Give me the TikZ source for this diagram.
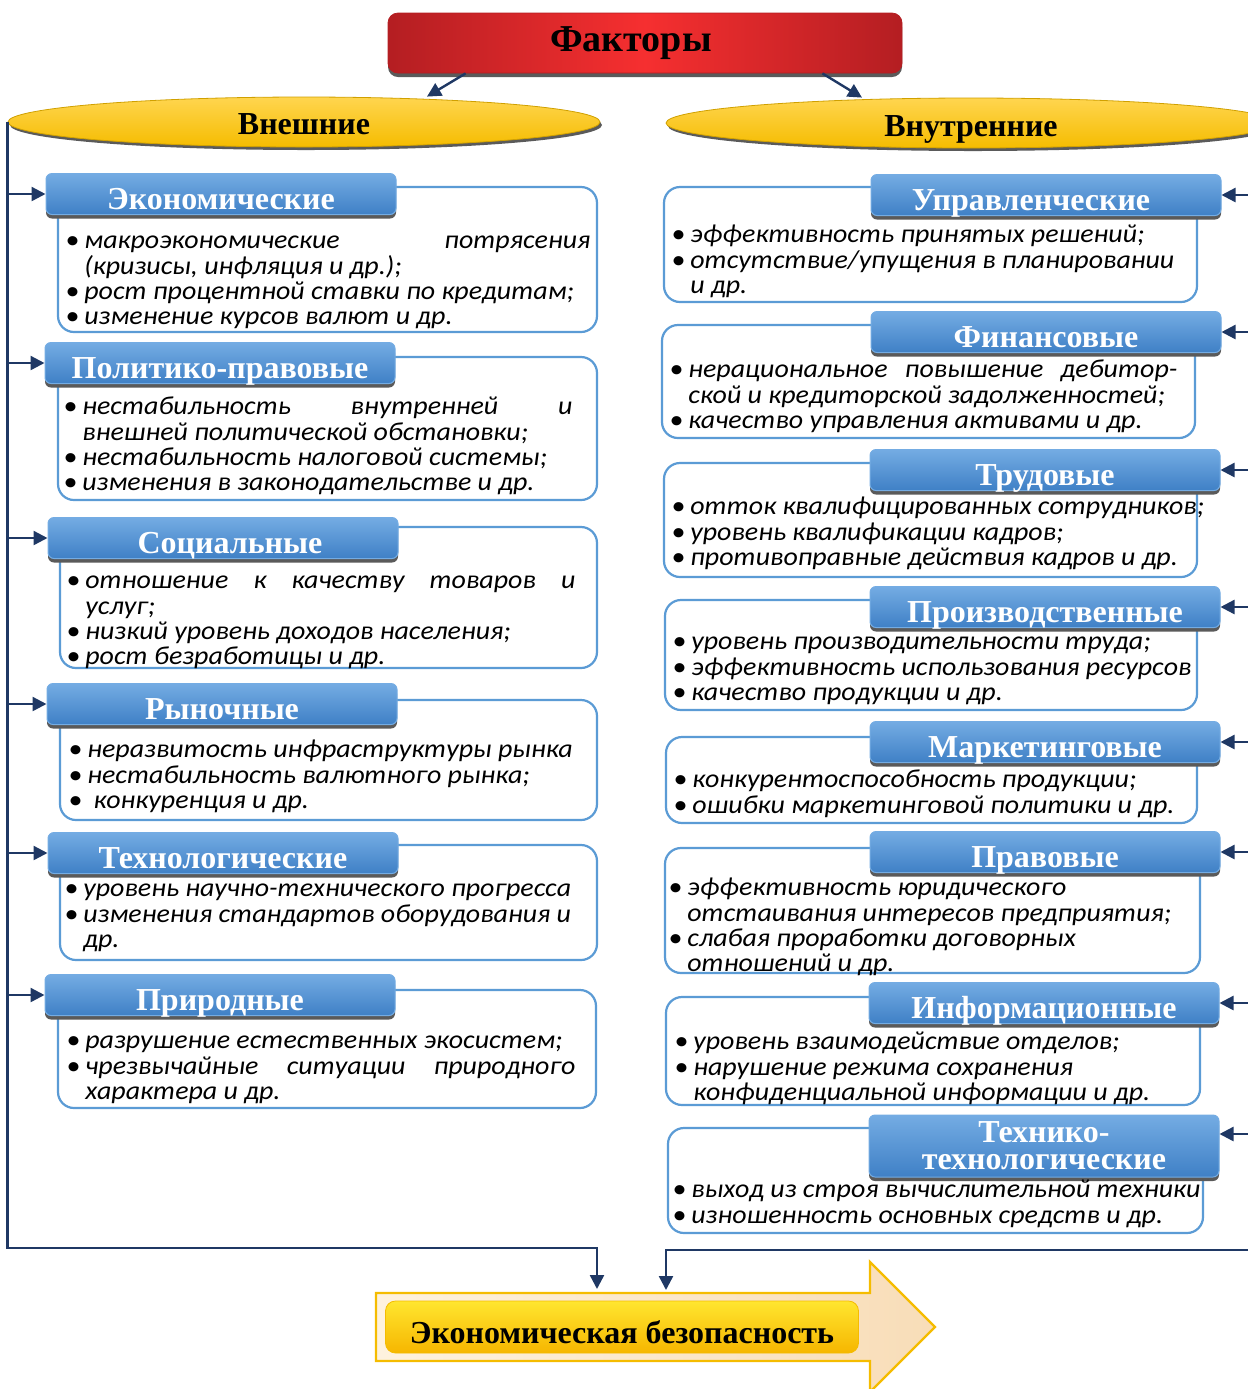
\documentclass[tikz,border=0pt]{standalone}
\usepackage{fontspec}
\newfontfamily\bodyfont[FakeStretch=1.075]{Carlito}
\newfontfamily\headfont{Liberation Serif}
\usetikzlibrary{arrows.meta,shapes.geometric,shadows}
\definecolor{fkred}{HTML}{F62F30}
\definecolor{fkdred}{HTML}{B41E22}
\definecolor{fkgold}{HTML}{F5BC00}
\definecolor{fklgold}{HTML}{FFD54F}
\definecolor{fknavy}{HTML}{1F3864}
\definecolor{fkblue}{HTML}{5B9BD5}
\definecolor{fkhtop}{HTML}{74ACE3}
\definecolor{fkhbot}{HTML}{3F80C6}
\definecolor{fkcream}{HTML}{FEF2DE}
\definecolor{fkpeach}{HTML}{F8DDB8}
\definecolor{fkshadow}{HTML}{5A5A5A}

\newcommand{\itemfont}{\bodyfont\itshape\fontsize{13}{12.6}\selectfont\lineskiplimit=-20pt\relax}
\newcommand{\bl}{\rule{0pt}{11.2pt}\makebox[9.5pt][l]{\textbullet}}
\newcommand{\cl}{\rule{0pt}{11.2pt}\hspace*{9.5pt}}

\begin{document}
\begin{tikzpicture}[x=0.5pt, y=-0.5pt,
    arr/.style={draw=fknavy, line width=1.2pt, -{Triangle[length=7pt, width=7pt]}},
    hdrbase/.style={rounded corners=3pt, top color=fkhtop, bottom color=fkhbot, draw=fkhtop,
      line width=0.5pt, minimum width=175pt, minimum height=20.5pt, inner sep=0pt,
      text=white, font=\headfont\bfseries\fontsize{16}{16}\selectfont,
      drop shadow={shadow xshift=0pt, shadow yshift=-2pt, fill=fkshadow, opacity=1}},
    hdr/.style={hdrbase, text height=15pt, text depth=0pt},
    frame/.style={draw=fkblue, line width=1.1pt, rounded corners=8pt, fill=white},
    txt/.style={anchor=north west, inner sep=0pt, align=left, font=\itemfont},
    grp/.style={ellipse, top color=fklgold, bottom color=fkgold, draw=fkgold!85!black,
      line width=0.4pt, minimum height=25pt, inner sep=0pt,
      font=\headfont\bfseries\fontsize{16}{16}\selectfont,
      drop shadow={shadow xshift=1pt, shadow yshift=-1.5pt, fill=fkshadow, opacity=1}},
  ]
  \useasboundingbox (0,0) rectangle (1248,1389);

  % top level
  \node[rounded corners=5pt, left color=fkdred, right color=fkdred, middle color=fkred,
    draw=fkdred, minimum width=257pt, minimum height=30pt, inner sep=0pt,
    font=\headfont\bfseries\fontsize{19}{19}\selectfont,
    drop shadow={shadow xshift=0pt, shadow yshift=-2pt, fill=fkshadow, opacity=1}]
    (fak) at (645,43) {Факторы\hspace*{14pt}};
  \node[grp, minimum width=296pt] (vnesh) at (304,122) {\raisebox{-1pt}[\height][0pt]{Внешние}};
  \node[grp, minimum width=305pt] (vnut) at (971,123) {\raisebox{-1.5pt}[\height][0pt]{Внутренние}};
  \draw[arr] ([xshift=39pt]fak.south west) -- ([xshift=61.5pt]vnesh.north);
  \draw[arr] ([xshift=-40pt]fak.south east) -- ([xshift=-54.5pt]vnut.north);

  % content frames, drawn before the headers
  \draw[frame] (58,187) rectangle (597,332);
  \draw[frame] (58,357) rectangle (597,500);
  \draw[frame] (60,527) rectangle (597,668);
  \draw[frame] (60,700) rectangle (597,820);
  \draw[frame] (60,845) rectangle (597,960);
  \draw[frame] (58,990) rectangle (596,1108);
  \draw[frame] (664,187) rectangle (1197,302);
  \draw[frame] (662,325) rectangle (1195,438);
  \draw[frame] (664,463) rectangle (1197,577);
  \draw[frame] (665,600) rectangle (1197,710);
  \draw[frame] (666,737) rectangle (1197,823);
  \draw[frame] (665,848) rectangle (1200,973);
  \draw[frame] (666,997) rectangle (1200,1105);
  \draw[frame] (668,1128) rectangle (1203,1233);

  % external factors
  \node[hdr] (eco) at (221,194) {Экономические};
  \node[hdr] (pol) at (220,363) {Политико-правовые};
  \node[hdr] (soc) at (223,538) {\hspace*{7pt}Социальные};
  \node[hdr] (ryn) at (222,704) {Рыночные};
  \node[hdr] (tech) at (223,853) {Технологические};
  \node[hdr] (prir) at (220,995) {Природные};

  \node[txt] (ecot) at (65,226) {\bl\makebox[253pt][s]{макроэкономические потрясения}\\
    \cl(кризисы, инфляция и др.);\\ \bl рост процентной ставки по кредитам;\\
    \bl изменение курсов валют и др.};
  \node[txt] (polt) at (63,392) {\bl\makebox[245pt][s]{нестабильность внутренней и}\\
    \cl внешней политической обстановки;\\ \bl нестабильность налоговой системы;\\
    \bl изменения в законодательстве и др.};
  \node[txt] (soct) at (66,566) {\bl\makebox[245pt][s]{отношение к качеству товаров и}\\
    \cl услуг;\\ \bl низкий уровень доходов населения;\\ \bl рост безработицы и др.};
  \node[txt] (rynt) at (68,735) {\bl неразвитость инфраструктуры рынка\\
    \bl нестабильность валютного рынка;\\ \bl\ конкуренция и др.};
  \node[txt] (techt) at (64,874) {\bl уровень научно-технического прогресса\\
    \bl изменения стандартов оборудования и\\ \cl др.};
  \node[txt] (prirt) at (66,1026) {\bl разрушение естественных экосистем;\\
    \bl\makebox[245pt][s]{чрезвычайные ситуации природного}\\ \cl характера и др.};

  % internal factors
  \node[hdr] (upr) at (1046,195) {Управленческие\hspace*{15pt}};
  \node[hdr] (fin) at (1046,332) {Финансовые};
  \node[hdr] (trud) at (1045,470) {Трудовые};
  \node[hdr] (proiz) at (1045,607) {Производственные};
  \node[hdr] (mark) at (1045,742) {Маркетинговые};
  \node[hdr] (prav) at (1045,852) {Правовые};
  \node[hdr] (inf) at (1044,1003) {Информационные};
  \node[hdrbase, minimum height=31pt, align=center, font=\headfont\bfseries\fontsize{16}{13.5}\selectfont]
    (tt) at (1044,1146) {Технико-\\технологические};

  \node[txt] (uprt) at (671,220) {\bl эффективность принятых решений;\\
    \bl отсутствие/упущения в планировании\\ \cl и др.};
  \node[txt] (fint) at (669,355) {\bl\makebox[244.5pt][s]{нерациональное повышение дебитор-}\\
    \cl ской и кредиторской задолженностей;\\ \bl качество управления активами и др.};
  \node[txt] (trudt) at (671,492) {\bl отток квалифицированных сотрудников;\\
    \bl уровень квалификации кадров;\\ \bl противоправные действия кадров и др.};
  \node[txt] (proizt) at (672,627) {\bl уровень производительности труда;\\
    \bl эффективность использования ресурсов\\ \bl качество продукции и др.};
  \node[txt] (markt) at (673,765) {\bl конкурентоспособность продукции;\\
    \bl ошибки маркетинговой политики и др.};
  \node[txt] (pravt) at (668,873) {\bl эффективность юридического\\
    \cl отстаивания интересов предприятия;\\ \bl слабая проработки договорных\\
    \cl отношений и др.};
  \node[txt] (inft) at (674,1027) {\bl уровень взаимодействие отделов;\\
    \bl нарушение режима сохранения\\ \cl конфиденциальной информации и др.};
  \node[txt] (ttt) at (672,1175) {\bl выход из строя вычислительной техники\\
    \bl изношенность основных средств и др.};

  % result
  \draw[draw=fkgold, line width=1.2pt, left color=fkcream, right color=fkpeach]
    (376,1293) -- (870,1293) -- (870,1262) -- (935,1327) -- (870,1392)
    -- (870,1361) -- (376,1361) -- cycle;
  \node[rounded corners=5pt, top color=fklgold!60!yellow, bottom color=fkgold!90!orange,
    draw=fkgold, minimum width=236.5pt, minimum height=26pt, inner sep=0pt,
    font=\headfont\bfseries\fontsize{16}{16}\selectfont]
    (eb) at (622,1327) {\raisebox{-2.5pt}[\height][0pt]{Экономическая безопасность}};
  \coordinate (lin) at (597,1289);
  \coordinate (rin) at (666,1290);
  \coordinate (rtrunk) at (1251,130);

  % trunks and branches
  \draw[arr] (vnesh.west) |- ([yshift=20.5pt]lin) -- (lin);
  \draw[arr] (rtrunk) |- ([yshift=20pt]rin) -- (rin);
  \foreach \h in {eco,pol,soc,ryn,tech,prir}
    \draw[arr] (vnesh.west |- \h.west) -- (\h.west);
  \foreach \h in {upr,fin,trud,proiz,mark,prav,inf}
    \draw[arr] (rtrunk |- \h.east) -- (\h.east);
  \draw[arr] (rtrunk |- 0,1134) -- (tt.east |- 0,1134);
\end{tikzpicture}
\end{document}
